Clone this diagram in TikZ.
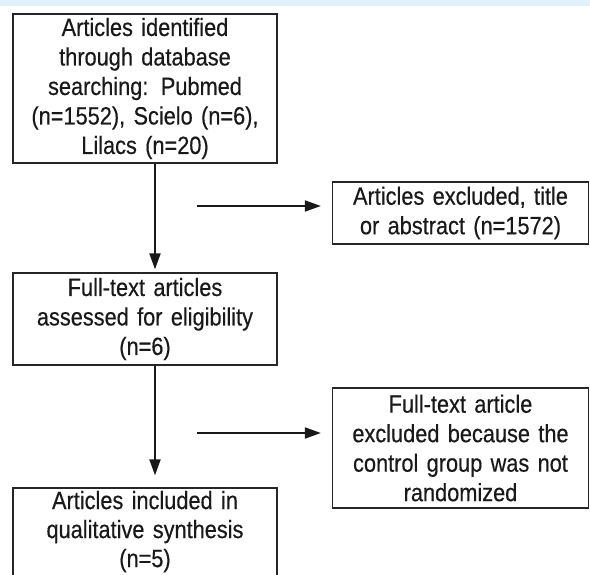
\documentclass[tikz,border=0pt]{standalone}
\usepackage{fontspec}
\setmainfont{Liberation Sans}[FakeStretch=0.87,FakeBold=0.4]
\usepackage{tikz}
\usetikzlibrary{arrows.meta}
\usepackage{xcolor}
\definecolor{bandblue}{HTML}{DFF1F9}

\begin{document}
\begin{tikzpicture}[x=1pt,y=-1pt,
  box/.style={draw=black!85,line width=1.3pt,text=black!90,align=center,inner sep=0pt,
    text width=264pt,font=\fontsize{25}{29.5}\selectfont},
  side/.style={box,text width=256pt},
  arr/.style={line width=2pt,draw=black!90,-{Triangle[length=16pt,width=11pt]}}]
  \clip (0,0) rectangle (590,575);
  \fill[bandblue] (0,0) rectangle (590,6);
  \node[box,minimum height=149pt] (ident) at (145,88.5)
    {Articles identified\\ through database\\ searching: Pubmed\\ (n=1552), Scielo (n=6),\\ Lilacs (n=20)};
  \node[side,minimum height=62pt] (excl) at (460.5,213)
    {Articles excluded, title\\ or abstract (n=1572)};
  \node[box,minimum height=92pt] (full) at (145,319)
    {Full-text articles\\ assessed for eligibility\\ (n=6)};
  \node[side,minimum height=120pt] (notrand) at (460.5,448)
    {Full-text article\\ excluded because the\\ control group was not\\ randomized};
  % last box runs past the lower edge
  \node[box,minimum height=96pt,text depth=72pt,font=\fontsize{25}{29}\selectfont] (incl) at (145,536)
    {Articles included in\\ qualitative synthesis\\ (n=5)};
  \coordinate (c1) at (197,206);
  \coordinate (c2) at (197,433);
  \draw[arr,shorten >=3pt] ([xshift=10pt]ident.south) -- ([xshift=10pt]full.north);
  \draw[arr,shorten >=12pt] ([xshift=10pt]full.south) -- ([xshift=10pt]incl.north);
  \draw[arr,shorten >=11pt] (c1) -- (c1 -| excl.west);
  \draw[arr,shorten >=11pt] (c2) -- (c2 -| notrand.west);
\end{tikzpicture}
\end{document}
